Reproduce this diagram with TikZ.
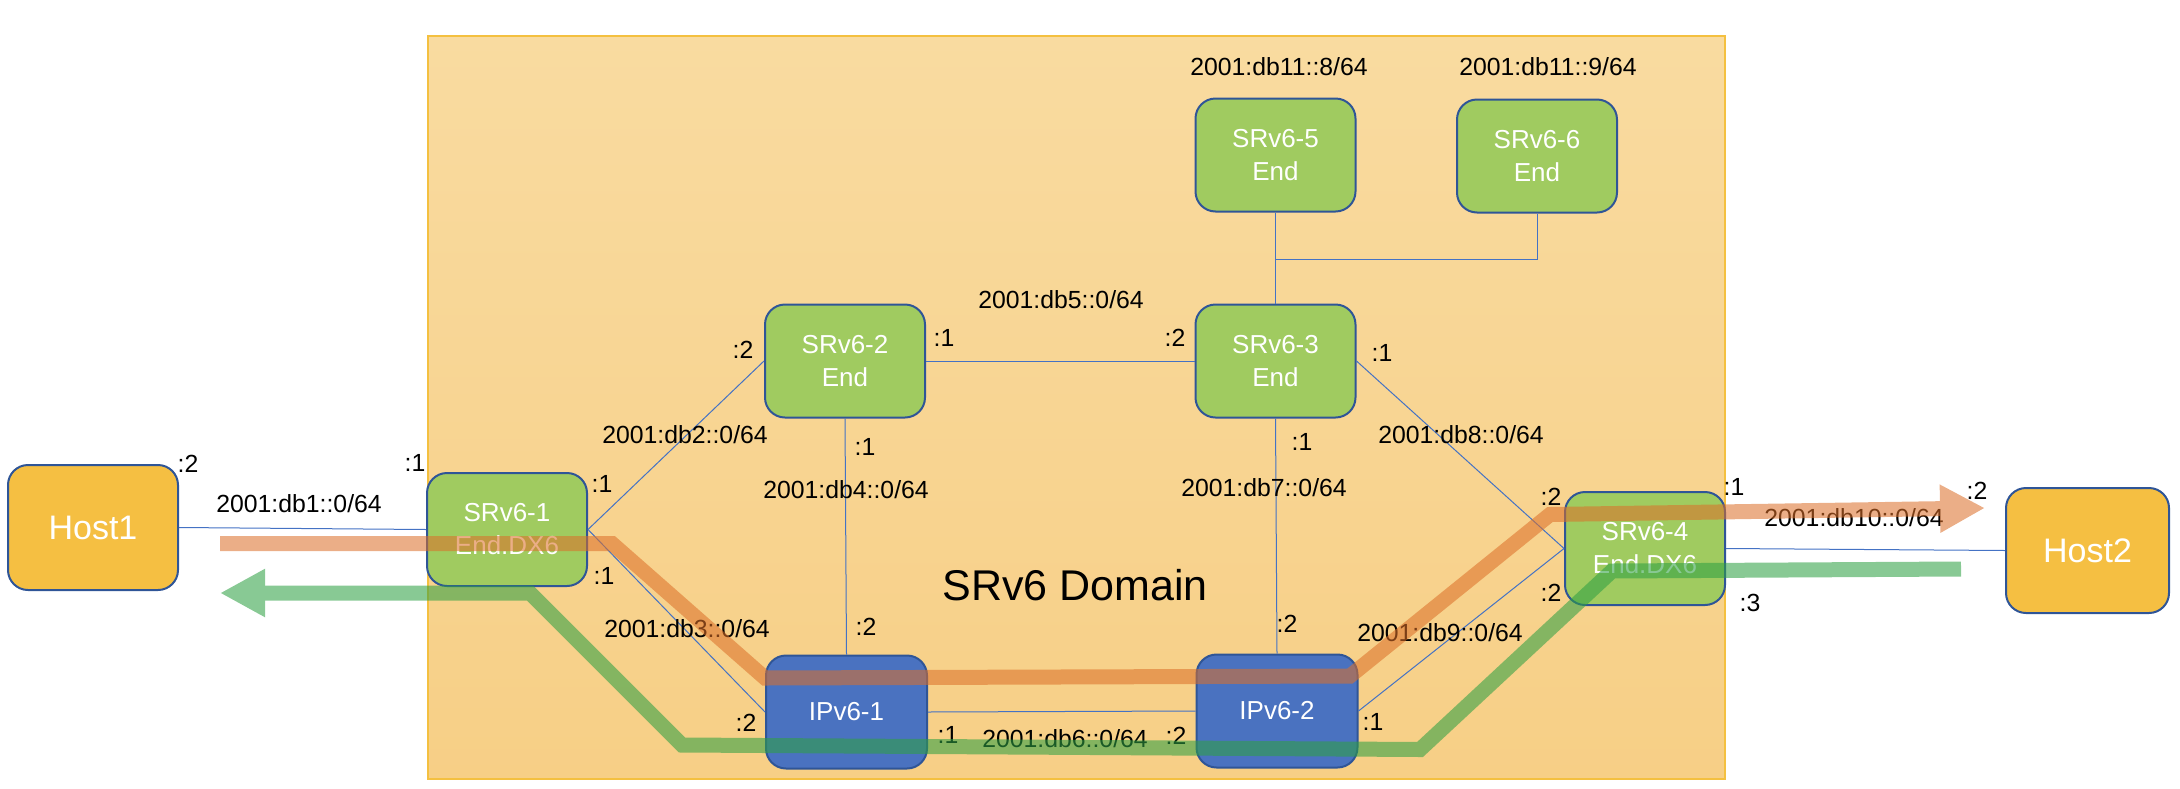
\documentclass[tikz,border=0pt]{standalone}
\usepackage{fontspec}
\setmainfont{Liberation Sans}
\usetikzlibrary{arrows.meta}
\definecolor{domtop}{HTML}{F9DBA0}
\definecolor{dombot}{HTML}{F7CF86}
\definecolor{domline}{HTML}{F4C040}
\definecolor{srfill}{HTML}{A0CB60}
\definecolor{hostfill}{HTML}{F5BF42}
\definecolor{ipfill}{HTML}{4A72C0}
\definecolor{nodeline}{HTML}{2F5597}
\definecolor{linkc}{HTML}{4472C4}
\definecolor{orangeflow}{RGB}{220,111,41}
\definecolor{greenflow}{RGB}{46,160,67}
\tikzset{
  box/.style={draw=nodeline, line width=1pt, rounded corners=10pt, text=white, align=center,
    font=\fontsize{13}{16.5}\selectfont, inner sep=0pt},
  srbox/.style={box, fill=srfill, minimum width=80pt, minimum height=56.5pt},
  ipbox/.style={box, fill=ipfill, minimum width=80.5pt, minimum height=56.5pt},
  hostbox/.style={box, fill=hostfill, minimum height=62.5pt, font=\fontsize{17}{20}\selectfont},
  link/.style={draw=linkc, line width=0.5pt},
  lbl/.style={font=\fontsize{12.4}{14}\selectfont, inner sep=0pt, text=black},
  flow/.style={line width=7.5pt, line join=miter, -{Triangle[length=22.5pt,width=22.5pt]}}
}
\begin{document}
\begin{tikzpicture}[x=0.5pt,y=-0.5pt]
\useasboundingbox (0,0) rectangle (2180,788);
% domain
\shade[top color=domtop, bottom color=dombot] (428,36) rectangle (1725,779);
\draw[domline, line width=0.75pt] (428,36) rectangle (1725,779);
% nodes
\node[hostbox, minimum width=85pt] (h1) at (93,527.5) {Host1};
\node[hostbox, minimum width=81.5pt] (h2) at (2087.5,550.5) {Host2};
\node[srbox] (s1) at (507,529.5) {SRv6-1\\End.DX6};
\node[srbox] (s2) at (845,361) {SRv6-2\\End};
\node[srbox] (s3) at (1275.5,361) {SRv6-3\\End};
\node[srbox] (s4) at (1645,548.5) {SRv6-4\\End.DX6};
\node[srbox] (s5) at (1275.5,155) {SRv6-5\\End};
\node[srbox] (s6) at (1537,156) {SRv6-6\\End};
\node[ipbox] (i1) at (846.5,712) {IPv6-1};
\node[ipbox] (i2) at (1277,711) {IPv6-2};
\coordinate (j) at (1275.5,259);
% links
\draw[link] (h1.east) -- (s1.west);
\draw[link] (s1.east) -- (s2.west);
\draw[link] (s1.east) -- (i1.west);
\draw[link] (s2.south) -- (i1.north);
\draw[link] (s2.east) -- (s3.west);
\draw[link] (s3.south) -- (i2.north);
\draw[link] (i1.east) -- (i2.west);
\draw[link] (s3.east) -- (s4.west);
\draw[link] (i2.east) -- (s4.west);
\draw[link] (s4.east) -- (h2.west);
\draw[link] (s5.south) -- (s3.north);
\draw[link] (s6.south) |- (j);
% labels
\node[lbl] (a1) at (188,464) {:2};
\node[lbl] (a2) at (415,463) {:1};
\node[lbl] (a3) at (299,504) {2001:db1::0/64};
\node[lbl] (a4) at (602,484) {:1};
\node[lbl] (a5) at (604,576) {:1};
\node[lbl] (a6) at (685,435) {2001:db2::0/64};
\node[lbl] (a7) at (743,350) {:2};
\node[lbl] (a8) at (865,447) {:1};
\node[lbl] (a9) at (846,490) {2001:db4::0/64};
\node[lbl] (a10) at (866,627) {:2};
\node[lbl] (a11) at (687,629) {2001:db3::0/64};
\node[lbl] (a12) at (746,723) {:2};
\node[lbl] (a13) at (948,735) {:1};
\node[lbl] (a14) at (1065,739) {2001:db6::0/64};
\node[lbl] (a15) at (1176,736) {:2};
\node[lbl] (a16) at (1373,722) {:1};
\node[lbl] (a17) at (1287,624) {:2};
\node[lbl] (a18) at (1264,488) {2001:db7::0/64};
\node[lbl] (a19) at (1302,442) {:1};
\node[lbl] (a20) at (1461,435) {2001:db8::0/64};
\node[lbl] (a21) at (1440,633) {2001:db9::0/64};
\node[lbl] (a22) at (1551,497) {:2};
\node[lbl] (a23) at (1551,593) {:2};
\node[lbl] (a24) at (1734,487) {:1};
\node[lbl] (a25) at (1750,603) {:3};
\node[lbl] (a26) at (1977,491) {:2};
\node[lbl] (a27) at (1854,518) {2001:db10::0/64};
\node[lbl] (a28) at (1061,300) {2001:db5::0/64};
\node[lbl] (a29) at (944,338) {:1};
\node[lbl] (a30) at (1175,338) {:2};
\node[lbl] (a31) at (1382,353) {:1};
\node[lbl] (a32) at (1279,67) {2001:db11::8/64};
\node[lbl] (a33) at (1548,67) {2001:db11::9/64};
\node[font=\fontsize{21.5}{24}\selectfont, inner sep=0pt] (dom) at (1075,585) {SRv6 Domain};
% flows
\coordinate (o0) at (220,543.5);
\coordinate (o1) at (612,543.5);
\coordinate (o2) at (765,678);
\coordinate (o3) at (1350,676);
\coordinate (o4) at (1550,514.5);
\coordinate (o5) at (1985,508);
\coordinate (g0) at (1961,569);
\coordinate (g1) at (1612,571);
\coordinate (g2) at (1420,749.5);
\coordinate (g3) at (682,745);
\coordinate (g4) at (530,593);
\coordinate (g5) at (220,593);
\begin{scope}[transparency group, opacity=0.56]
\draw[flow, draw=orangeflow] (o0) -- (o1) -- (o2) -- (o3) -- (o4) -- (o5);
\end{scope}
\begin{scope}[transparency group, opacity=0.57]
\draw[flow, draw=greenflow] (g0) -- (g1) -- (g2) -- (g3) -- (g4) -- (g5);
\end{scope}
\end{tikzpicture}
\end{document}
